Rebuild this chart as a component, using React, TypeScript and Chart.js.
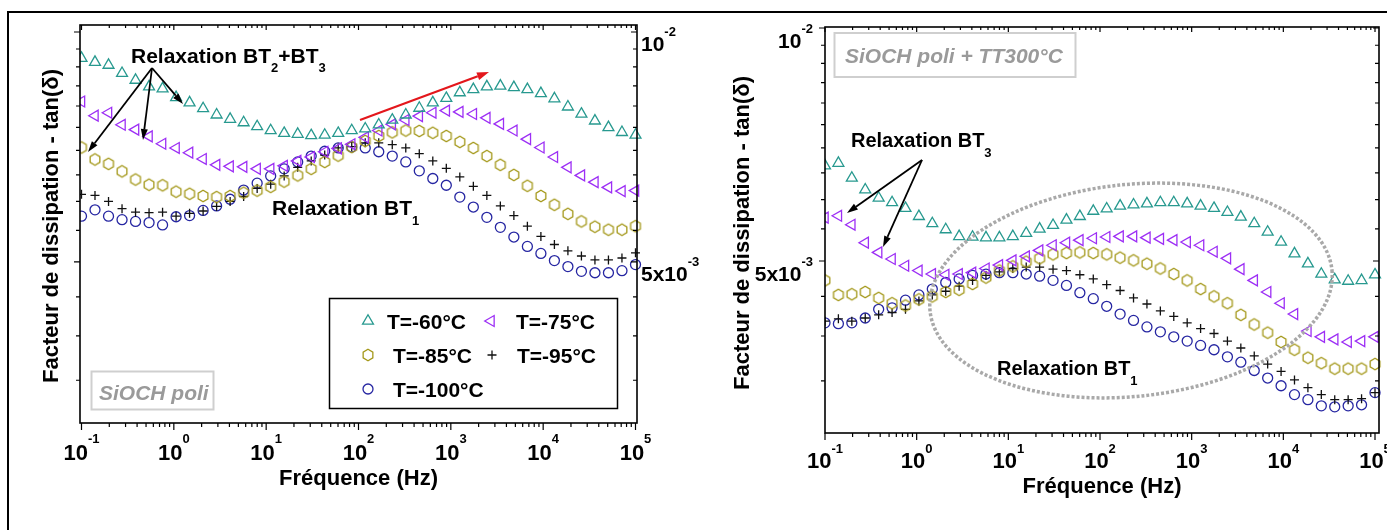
import React, { useEffect, useRef } from 'react';
import { Chart, registerables } from 'chart.js';

Chart.register(...registerables);

// ---------------- data ----------------
const FREQ = [0.1, 0.14, 0.1962, 0.2748, 0.3849, 0.5391, 0.7551, 1.058, 1.481, 2.075, 2.906, 4.071, 5.702, 7.987, 11.19, 15.67, 21.95, 30.74, 43.06, 60.31, 84.47, 118.3, 165.7, 232.1, 325.1, 455.4, 637.8, 893.4, 1251, 1753, 2455, 3438, 4816, 6746, 9449, 13234, 18536, 25963, 36366, 50936, 71344, 100000];

const SERIES_LABELS = ['T=-60°C', 'T=-75°C', 'T=-85°C', 'T=-95°C', 'T=-100°C'];

// left panel : SiOCH poli
const L_T60 = [0.00924, 0.00913, 0.00905, 0.00883, 0.00865, 0.00848, 0.00843, 0.00821, 0.00808, 0.00794, 0.00779, 0.00769, 0.00761, 0.00752, 0.00743, 0.00737, 0.00735, 0.00732, 0.00733, 0.00737, 0.00743, 0.00747, 0.00756, 0.00767, 0.00779, 0.00795, 0.00808, 0.00819, 0.00833, 0.00841, 0.00848, 0.0085, 0.00846, 0.00841, 0.00831, 0.00818, 0.00798, 0.00781, 0.00765, 0.0075, 0.00739, 0.00733];
const L_T75 = [0.00811, 0.00777, 0.00784, 0.00756, 0.00745, 0.0073, 0.00714, 0.00705, 0.00695, 0.00682, 0.0067, 0.00667, 0.00666, 0.00662, 0.00662, 0.00668, 0.00678, 0.00686, 0.00697, 0.00704, 0.00713, 0.00728, 0.00743, 0.00757, 0.00767, 0.00776, 0.00784, 0.00789, 0.00786, 0.00781, 0.00772, 0.00758, 0.00743, 0.00724, 0.00706, 0.00686, 0.00665, 0.00649, 0.00636, 0.00626, 0.00619, 0.0062];
const L_T85 = [0.00706, 0.00681, 0.00672, 0.00657, 0.00641, 0.00631, 0.0063, 0.00618, 0.00614, 0.0061, 0.00608, 0.0061, 0.00616, 0.0062, 0.00627, 0.00637, 0.00649, 0.00662, 0.00676, 0.00689, 0.00707, 0.0072, 0.00731, 0.00739, 0.00743, 0.00742, 0.00738, 0.00731, 0.00718, 0.00705, 0.00688, 0.0067, 0.0065, 0.00629, 0.0061, 0.00594, 0.00578, 0.00565, 0.00556, 0.00551, 0.00551, 0.00557];
const L_T95 = [0.00613, 0.00611, 0.006, 0.00587, 0.00581, 0.0058, 0.00581, 0.00574, 0.00579, 0.00583, 0.00591, 0.006, 0.00609, 0.00624, 0.00632, 0.00648, 0.00665, 0.00678, 0.0069, 0.00705, 0.00708, 0.00716, 0.00716, 0.00712, 0.00705, 0.00693, 0.00678, 0.00663, 0.00646, 0.00628, 0.00611, 0.00592, 0.00575, 0.00557, 0.0054, 0.00527, 0.00517, 0.00509, 0.00503, 0.00503, 0.00506, 0.00514];
const L_T100 = [0.00574, 0.00585, 0.00574, 0.00568, 0.00565, 0.00563, 0.00559, 0.00573, 0.00575, 0.00584, 0.00592, 0.00604, 0.00621, 0.00634, 0.00648, 0.00662, 0.00676, 0.00688, 0.00698, 0.00705, 0.00707, 0.00705, 0.00697, 0.00688, 0.00676, 0.00658, 0.00643, 0.0063, 0.00608, 0.0059, 0.00572, 0.00555, 0.00539, 0.00524, 0.00513, 0.00502, 0.00493, 0.00486, 0.00484, 0.00484, 0.00487, 0.00496];

// right panel : SiOCH poli + TT300°C
const R_T60 = [0.00664, 0.00669, 0.0064, 0.00618, 0.00603, 0.00595, 0.00585, 0.00571, 0.00559, 0.00549, 0.00538, 0.00537, 0.00536, 0.00536, 0.00538, 0.00543, 0.0055, 0.00556, 0.00565, 0.00571, 0.0058, 0.00584, 0.00589, 0.00591, 0.00593, 0.00595, 0.00595, 0.00593, 0.00589, 0.00585, 0.00578, 0.0057, 0.00559, 0.00545, 0.00529, 0.00511, 0.00496, 0.00481, 0.00473, 0.00471, 0.00472, 0.0048];
const R_T75 = [0.00569, 0.00572, 0.00557, 0.00528, 0.00513, 0.00503, 0.00493, 0.00486, 0.00481, 0.0048, 0.00481, 0.00483, 0.00489, 0.00494, 0.00501, 0.00507, 0.00516, 0.00524, 0.00528, 0.00532, 0.00535, 0.00537, 0.00538, 0.00538, 0.00536, 0.00534, 0.00532, 0.00529, 0.00524, 0.00514, 0.00504, 0.00488, 0.00472, 0.00456, 0.00441, 0.00427, 0.00406, 0.00399, 0.00396, 0.00393, 0.00394, 0.00399];
const R_T85 = [0.00472, 0.00452, 0.00453, 0.00456, 0.00448, 0.00441, 0.00438, 0.00446, 0.0045, 0.00456, 0.00459, 0.00467, 0.00476, 0.00486, 0.00492, 0.00499, 0.00504, 0.0051, 0.00512, 0.00513, 0.00512, 0.0051, 0.00505, 0.00501, 0.00496, 0.00489, 0.00481, 0.00472, 0.0046, 0.0045, 0.00441, 0.00426, 0.00414, 0.00404, 0.00393, 0.00384, 0.00375, 0.00369, 0.00363, 0.00363, 0.00363, 0.00368];
const R_T95 = [0.00418, 0.00421, 0.00418, 0.00422, 0.00426, 0.00429, 0.00433, 0.00444, 0.00452, 0.00457, 0.00464, 0.00472, 0.00479, 0.00484, 0.00489, 0.00491, 0.00491, 0.00488, 0.00486, 0.0048, 0.00474, 0.00466, 0.00458, 0.00448, 0.0044, 0.00431, 0.00424, 0.00416, 0.00409, 0.00403, 0.00394, 0.00386, 0.00377, 0.00368, 0.0036, 0.00351, 0.00343, 0.00336, 0.00331, 0.00331, 0.00332, 0.00338];
const R_T100 = [0.00416, 0.00415, 0.00416, 0.00422, 0.00433, 0.00435, 0.00445, 0.00452, 0.0046, 0.00469, 0.00474, 0.00479, 0.00481, 0.00483, 0.00483, 0.00481, 0.00478, 0.00472, 0.00465, 0.00455, 0.00447, 0.00437, 0.00427, 0.00419, 0.00411, 0.00405, 0.00399, 0.00394, 0.00389, 0.00384, 0.00376, 0.0037, 0.00361, 0.00353, 0.00345, 0.00336, 0.00331, 0.00325, 0.00324, 0.00325, 0.00326, 0.00338];

// ticks
const X_DECADES = [0.1, 1, 10, 100, 1000, 10000, 100000];
const X_EXPONENTS = ['-1', '0', '1', '2', '3', '4', '5'];
const Y_MAJOR = [0.01, 0.005];
const Y_MAJOR_BASE = ['10', '5x10'];
const Y_MAJOR_EXP = ['-2', '-3'];
const Y_MINOR = [0.0095, 0.009, 0.0085, 0.008, 0.0075, 0.007, 0.0065, 0.006, 0.0055, 0.0045, 0.004, 0.0035];

// ---------------- styles ----------------
const COLORS = ['#27998f', '#9d2ff5', '#a4981a', '#111111', '#2626a2'];
const FAMILY = '"Liberation Sans", Arial, "DejaVu Sans", sans-serif';
const MARK_LW = 1.3;
const R_TRI = 6.3;
const R_CIRC = 5;
const R_CROSS = 4.5;

function makeHexImage(color: string): HTMLCanvasElement {
  const c = document.createElement('canvas');
  c.width = 16;
  c.height = 16;
  const g = c.getContext('2d')!;
  g.strokeStyle = color;
  g.lineWidth = MARK_LW;
  g.beginPath();
  for (let i = 0; i < 6; i++) {
    const a = -Math.PI / 2 + (i * Math.PI) / 3;
    const px = 8 + 5.6 * Math.cos(a);
    const py = 8 + 5.8 * Math.sin(a);
    if (i === 0) g.moveTo(px, py);
    else g.lineTo(px, py);
  }
  g.closePath();
  g.stroke();
  return c;
}

type Part = { t: string; size: number; dy?: number };

function richText(ctx: CanvasRenderingContext2D, x: number, y: number, parts: Part[], color: string, align: string = 'left', style: string = '') {
  const widths: number[] = [];
  let total = 0;
  parts.forEach((p) => {
    ctx.font = `${style} bold ${p.size}px ${FAMILY}`;
    const w = ctx.measureText(p.t).width;
    widths.push(w);
    total += w;
  });
  let cx = align === 'left' ? x : align === 'center' ? x - total / 2 : x - total;
  ctx.fillStyle = color;
  ctx.textAlign = 'left';
  ctx.textBaseline = 'alphabetic';
  parts.forEach((p, i) => {
    ctx.font = `${style} bold ${p.size}px ${FAMILY}`;
    ctx.fillText(p.t, cx, y + (p.dy || 0));
    cx += widths[i];
  });
}

function arrow(ctx: CanvasRenderingContext2D, x1: number, y1: number, x2: number, y2: number, color: string, lw: number, headLen: number, headHalf: number) {
  const ang = Math.atan2(y2 - y1, x2 - x1);
  const bx = x2 - headLen * Math.cos(ang);
  const by = y2 - headLen * Math.sin(ang);
  ctx.save();
  ctx.strokeStyle = color;
  ctx.lineWidth = lw;
  ctx.beginPath();
  ctx.moveTo(x1, y1);
  ctx.lineTo(bx, by);
  ctx.stroke();
  ctx.fillStyle = color;
  ctx.beginPath();
  ctx.moveTo(x2, y2);
  ctx.lineTo(bx + headHalf * Math.sin(ang), by - headHalf * Math.cos(ang));
  ctx.lineTo(bx - headHalf * Math.sin(ang), by + headHalf * Math.cos(ang));
  ctx.closePath();
  ctx.fill();
  ctx.restore();
}

function drawMarker(ctx: CanvasRenderingContext2D, i: number, x: number, y: number, hexImg: HTMLCanvasElement) {
  ctx.save();
  ctx.strokeStyle = COLORS[i];
  ctx.lineWidth = MARK_LW;
  ctx.beginPath();
  if (i === 0 || i === 1) {
    let rad = i === 0 ? 0 : -Math.PI / 2;
    const r = R_TRI;
    ctx.moveTo(x + Math.sin(rad) * r, y - Math.cos(rad) * r);
    rad += (2 * Math.PI) / 3;
    ctx.lineTo(x + Math.sin(rad) * r, y - Math.cos(rad) * r);
    rad += (2 * Math.PI) / 3;
    ctx.lineTo(x + Math.sin(rad) * r, y - Math.cos(rad) * r);
    ctx.closePath();
    ctx.stroke();
  } else if (i === 2) {
    ctx.drawImage(hexImg, x - 8, y - 8);
  } else if (i === 3) {
    ctx.moveTo(x - R_CROSS, y);
    ctx.lineTo(x + R_CROSS, y);
    ctx.moveTo(x, y - R_CROSS);
    ctx.lineTo(x, y + R_CROSS);
    ctx.stroke();
  } else {
    ctx.arc(x, y, R_CIRC, 0, Math.PI * 2);
    ctx.stroke();
  }
  ctx.restore();
}

type PanelCfg = {
  values: number[][];
  xmin: number;
  xmax: number;
  ymin: number;
  ymax: number;
  padTop: number;
  padRight: number;
  leftW: number;
  bottomH: number;
  yLabelSide: 'left' | 'right';
  xLabelBase: number;
  xSupDy: number;
  yTitleX: number;
  yTitleY: number;
  xTitleY: number;
  annotate: (ctx: CanvasRenderingContext2D, hexImg: HTMLCanvasElement) => void;
};

function buildChart(canvas: HTMLCanvasElement, cfg: PanelCfg, hexImg: HTMLCanvasElement) {
  const shapes: any[] = [
    { style: 'triangle', rot: 0, r: R_TRI },
    { style: 'triangle', rot: -90, r: R_TRI },
    { style: hexImg, rot: 0, r: 5.5 },
    { style: 'cross', rot: 0, r: R_CROSS },
    { style: 'circle', rot: 0, r: R_CIRC },
  ];
  const datasets = cfg.values.map((vals, i) => ({
    label: SERIES_LABELS[i],
    data: FREQ.map((f, k) => ({ x: f, y: vals[k] })),
    showLine: false,
    pointStyle: shapes[i].style,
    pointRotation: shapes[i].rot,
    pointRadius: shapes[i].r,
    pointHoverRadius: shapes[i].r,
    pointBorderColor: COLORS[i],
    pointBackgroundColor: 'rgba(0,0,0,0)',
    pointBorderWidth: MARK_LW,
    clip: { left: 0, right: 10, top: false, bottom: false },
  }));

  const deco = {
    id: 'deco',
    afterDraw(chart: any) {
      const ctx: CanvasRenderingContext2D = chart.ctx;
      const { left, right, top, bottom } = chart.chartArea;
      const xs = chart.scales.x;
      const ys = chart.scales.y;
      ctx.save();
      // frame
      ctx.strokeStyle = '#000';
      ctx.lineWidth = 1.6;
      ctx.strokeRect(left, top, right - left, bottom - top);
      // x ticks
      ctx.lineWidth = 1.2;
      ctx.beginPath();
      for (let e = -2; e <= 5; e++) {
        for (let k = 1; k <= 9; k++) {
          const v = k * Math.pow(10, e);
          if (v < cfg.xmin || v > cfg.xmax) continue;
          const px = xs.getPixelForValue(v);
          const major = k === 1;
          ctx.moveTo(px, bottom);
          ctx.lineTo(px, bottom + (major ? 7 : 4));
          ctx.moveTo(px, top);
          ctx.lineTo(px, top + (major ? 5 : 3));
        }
      }
      // y ticks
      const yt = [...Y_MAJOR.map((v) => ({ v, major: true })), ...Y_MINOR.map((v) => ({ v, major: false }))];
      yt.forEach(({ v, major }) => {
        if (v < cfg.ymin || v > cfg.ymax) return;
        const py = ys.getPixelForValue(v);
        ctx.moveTo(left, py);
        ctx.lineTo(left - (major ? 6 : 4), py);
        ctx.moveTo(right, py);
        ctx.lineTo(right - (major ? 6 : 4), py);
      });
      ctx.stroke();

      // x tick labels
      X_DECADES.forEach((v, i) => {
        const px = xs.getPixelForValue(v);
        richText(ctx, px, cfg.xLabelBase, [
          { t: '10', size: 22 },
          { t: X_EXPONENTS[i], size: 13, dy: -cfg.xSupDy },
        ], '#000', 'center');
      });
      // y tick labels
      Y_MAJOR.forEach((v, i) => {
        const py = ys.getPixelForValue(v);
        const parts = [
          { t: Y_MAJOR_BASE[i], size: 21, dy: 0 },
          { t: Y_MAJOR_EXP[i], size: 13, dy: -15 },
        ];
        if (cfg.yLabelSide === 'right') richText(ctx, right + 4, py + 19, parts, '#000', 'left');
        else richText(ctx, left - 12, py + 20, parts, '#000', 'right');
      });

      // axis titles
      ctx.fillStyle = '#000';
      ctx.font = `bold 22px ${FAMILY}`;
      ctx.textAlign = 'center';
      ctx.textBaseline = 'alphabetic';
      ctx.fillText('Fréquence (Hz)', (left + right) / 2, cfg.xTitleY);
      ctx.save();
      ctx.translate(cfg.yTitleX, cfg.yTitleY);
      ctx.rotate(-Math.PI / 2);
      ctx.fillText('Facteur de dissipation - tan(δ)', 0, 0);
      ctx.restore();

      cfg.annotate(ctx, hexImg);
      ctx.restore();
    },
  };

  return new Chart(canvas, {
    type: 'scatter',
    data: { datasets: datasets as any },
    options: {
      animation: false,
      responsive: false,
      maintainAspectRatio: false,
      events: [],
      layout: { autoPadding: false, padding: { top: cfg.padTop, right: cfg.padRight, left: 0, bottom: 0 } },
      plugins: { legend: { display: false }, tooltip: { enabled: false }, title: { display: false } },
      scales: {
        x: {
          type: 'logarithmic',
          min: cfg.xmin,
          max: cfg.xmax,
          ticks: { display: false },
          grid: { display: false },
          border: { display: false },
          afterFit: (s: any) => { s.height = cfg.bottomH; },
        },
        y: {
          type: 'logarithmic',
          position: 'left',
          min: cfg.ymin,
          max: cfg.ymax,
          ticks: { display: false },
          grid: { display: false },
          border: { display: false },
          afterFit: (s: any) => { s.width = cfg.leftW; },
        },
      },
    } as any,
    plugins: [deco],
  });
}

function annotateLeft(ctx: CanvasRenderingContext2D, hexImg: HTMLCanvasElement) {
  // Relaxation BT2+BT3
  richText(ctx, 131, 63, [
    { t: 'Relaxation BT', size: 21 },
    { t: '2', size: 13, dy: 9 },
    { t: '+BT', size: 21 },
    { t: '3', size: 13, dy: 9 },
  ], '#000');
  arrow(ctx, 152, 68, 88, 152, '#000', 1.8, 11, 3.5);
  arrow(ctx, 152, 68, 143, 140, '#000', 1.8, 11, 3.5);
  arrow(ctx, 152, 68, 183, 104, '#000', 1.8, 11, 3.5);
  // red trend arrow
  arrow(ctx, 360, 120, 489, 72, '#e3171c', 2.2, 12, 4);
  // Relaxation BT1
  richText(ctx, 272, 215, [
    { t: 'Relaxation BT', size: 21 },
    { t: '1', size: 13, dy: 10 },
  ], '#000');
  // legend
  ctx.save();
  ctx.fillStyle = '#fff';
  ctx.fillRect(329.5, 298.5, 288, 110);
  ctx.strokeStyle = '#000';
  ctx.lineWidth = 1.5;
  ctx.strokeRect(329.5, 298.5, 288, 110);
  ctx.restore();
  const pos = [
    { mx: 368, my: 321, tx: 387, ty: 329 },
    { mx: 491, my: 321, tx: 516, ty: 329 },
    { mx: 368, my: 355, tx: 393, ty: 363 },
    { mx: 492, my: 355, tx: 517, ty: 363 },
    { mx: 368, my: 389, tx: 393, ty: 397 },
  ];
  pos.forEach((p, i) => {
    drawMarker(ctx, i, p.mx, p.my, hexImg);
    richText(ctx, p.tx, p.ty, [{ t: SERIES_LABELS[i], size: 21 }], '#000');
  });
  // sample box
  ctx.save();
  ctx.strokeStyle = '#cfcfcf';
  ctx.lineWidth = 2;
  ctx.strokeRect(91.5, 371.5, 122, 38);
  ctx.restore();
  richText(ctx, 99, 399.5, [{ t: 'SiOCH poli', size: 21 }], '#9a9a9a', 'left', 'italic');
}

function annotateRight(ctx: CanvasRenderingContext2D) {
  // sample box
  ctx.save();
  ctx.strokeStyle = '#cfcfcf';
  ctx.lineWidth = 2;
  ctx.strokeRect(134.5, 33, 241, 44);
  ctx.restore();
  richText(ctx, 145, 63, [{ t: 'SiOCH poli + TT300°C', size: 21 }], '#9a9a9a', 'left', 'italic');
  // Relaxation BT3
  richText(ctx, 151, 147, [
    { t: 'Relaxation BT', size: 20 },
    { t: '3', size: 13, dy: 10 },
  ], '#000');
  arrow(ctx, 222, 160, 147, 213, '#000', 1.8, 11, 3.5);
  arrow(ctx, 222, 160, 183, 247, '#000', 1.8, 11, 3.5);
  // dotted ellipse
  ctx.save();
  ctx.strokeStyle = '#a9a9a9';
  ctx.lineWidth = 3.5;
  ctx.setLineDash([3, 2]);
  ctx.beginPath();
  ctx.ellipse(431, 290.5, 202, 106, -0.1016, 0, Math.PI * 2);
  ctx.stroke();
  ctx.restore();
  // Relaxation BT1
  richText(ctx, 297, 375, [
    { t: 'Relaxation BT', size: 20 },
    { t: '1', size: 13, dy: 10 },
  ], '#000');
}

export default function App() {
  const leftRef = useRef<HTMLCanvasElement>(null);
  const rightRef = useRef<HTMLCanvasElement>(null);

  useEffect(() => {
    const hexImg = makeHexImage(COLORS[2]);
    const left = buildChart(leftRef.current!, {
      values: [L_T60, L_T75, L_T85, L_T95, L_T100],
      xmin: 0.09633,
      xmax: 103812,
      ymin: 0.003077,
      ymax: 0.010213,
      padTop: 25,
      padRight: 63,
      leftW: 80,
      bottomH: 107,
      yLabelSide: 'right',
      xLabelBase: 460,
      xSupDy: 17,
      yTitleX: 58,
      yTitleY: 226,
      xTitleY: 485,
      annotate: (ctx, img) => annotateLeft(ctx, img),
    }, hexImg);
    const right = buildChart(rightRef.current!, {
      values: [R_T60, R_T75, R_T85, R_T95, R_T100],
      xmin: 0.1,
      xmax: 110560,
      ymin: 0.0029975,
      ymax: 0.01003,
      padTop: 27,
      padRight: 8,
      leftW: 125,
      bottomH: 97,
      yLabelSide: 'left',
      xLabelBase: 468,
      xSupDy: 15,
      yTitleX: 49,
      yTitleY: 233,
      xTitleY: 493,
      annotate: (ctx) => annotateRight(ctx),
    }, hexImg);
    return () => {
      left.destroy();
      right.destroy();
    };
  }, []);

  return (
    <div style={{ position: 'absolute', left: 0, top: 0, width: 1387, height: 530, background: '#fff', overflow: 'hidden' }}>
      <div style={{ position: 'absolute', left: 7, top: 11, width: 1400, height: 540, borderLeft: '2px solid #000', borderTop: '2px solid #000', boxSizing: 'border-box' }} />
      <canvas ref={leftRef} width={700} height={530} style={{ position: 'absolute', left: 0, top: 0, width: 700, height: 530 }} />
      <canvas ref={rightRef} width={687} height={530} style={{ position: 'absolute', left: 700, top: 0, width: 687, height: 530 }} />
    </div>
  );
}
